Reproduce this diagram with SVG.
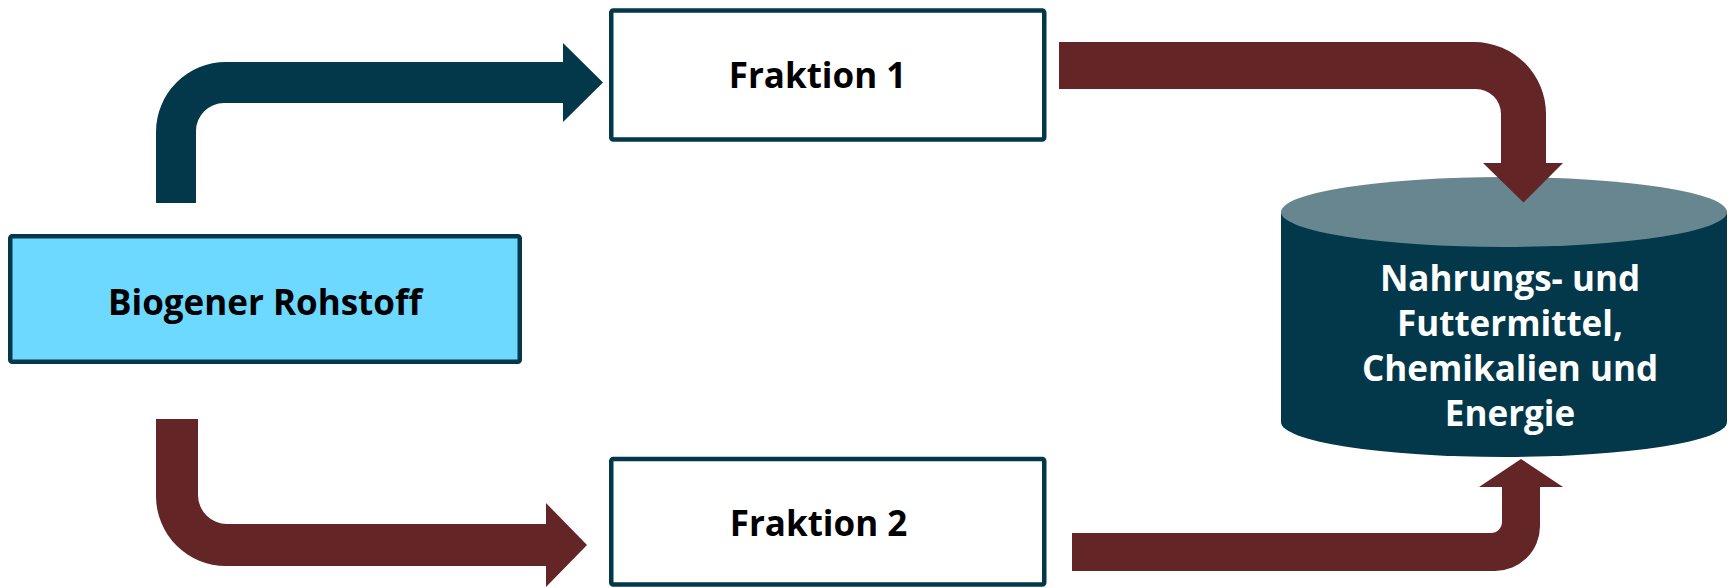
<svg xmlns="http://www.w3.org/2000/svg" width="1731" height="588" viewBox="0 0 1731 588">
<style>
.box{fill:#ffffff;stroke:#02384a;stroke-width:4.5}
.src{fill:#6dd9ff;stroke:#02384a;stroke-width:4.5}
.lbl{font-family:"Open Sans","Noto Sans","DejaVu Sans",sans-serif;font-weight:700;font-size:35px;text-anchor:middle;fill:#000000}
.wl{fill:#ffffff}
.navy{fill:#02384a}
.maroon{fill:#632526}
</style>
<rect width="1731" height="588" fill="#ffffff"/>
<g id="node-biogener">
<rect class="src" x="10.25" y="236.25" width="509.5" height="125.5" rx="2"/>
<text class="lbl" x="265" y="315">Biogener Rohstoff</text>
</g>
<g id="node-fraktion1">
<rect class="box" x="611.25" y="10.5" width="433" height="129" rx="2"/>
<text class="lbl" x="817.5" y="88">Fraktion 1</text>
</g>
<g id="node-fraktion2">
<rect class="box" x="611.25" y="459" width="433" height="125.5" rx="2"/>
<text class="lbl" x="818.5" y="535.5">Fraktion 2</text>
</g>
<g id="node-produkte">
<path class="navy" d="M1281,212 L1281,422 A223,35 0 0 0 1727,422 L1727,212 Z"/>
<ellipse cx="1504" cy="212" rx="223" ry="35" fill="#678690"/>
<text class="lbl wl" x="1510" y="291">Nahrungs- und</text>
<text class="lbl wl" x="1510" y="336">Futtermittel,</text>
<text class="lbl wl" x="1510" y="381">Chemikalien und</text>
<text class="lbl wl" x="1510" y="426">Energie</text>
</g>
<g id="connectors">
<path class="navy" d="M156,203 L156,132 A70,70 0 0 1 226,62 L563,62 L563,43 L603,82.5 L563,122 L563,103 L224,103 A28,28 0 0 0 196,131 L196,203 Z"/>
<path class="maroon" d="M156,419 L198,419 L198,495 A29,29 0 0 0 227,524 L546,524 L546,503 L587,545 L546,587 L546,566 L226,566 A70,70 0 0 1 156,496 Z"/>
<path class="maroon" d="M1059,42 L1474,42 A72,72 0 0 1 1546,114 L1546,163 L1563,163 L1523.5,202.5 L1483,163 L1501,163 L1501,114 A25,25 0 0 0 1476,89 L1059,89 Z"/>
<path class="maroon" d="M1072,533 L1491,533 A11,11 0 0 0 1502,522 L1502,487 L1479,487 L1521,459 L1563,487 L1540,487 L1540,526 A45,45 0 0 1 1495,571 L1072,571 Z"/>
</g>
</svg>
